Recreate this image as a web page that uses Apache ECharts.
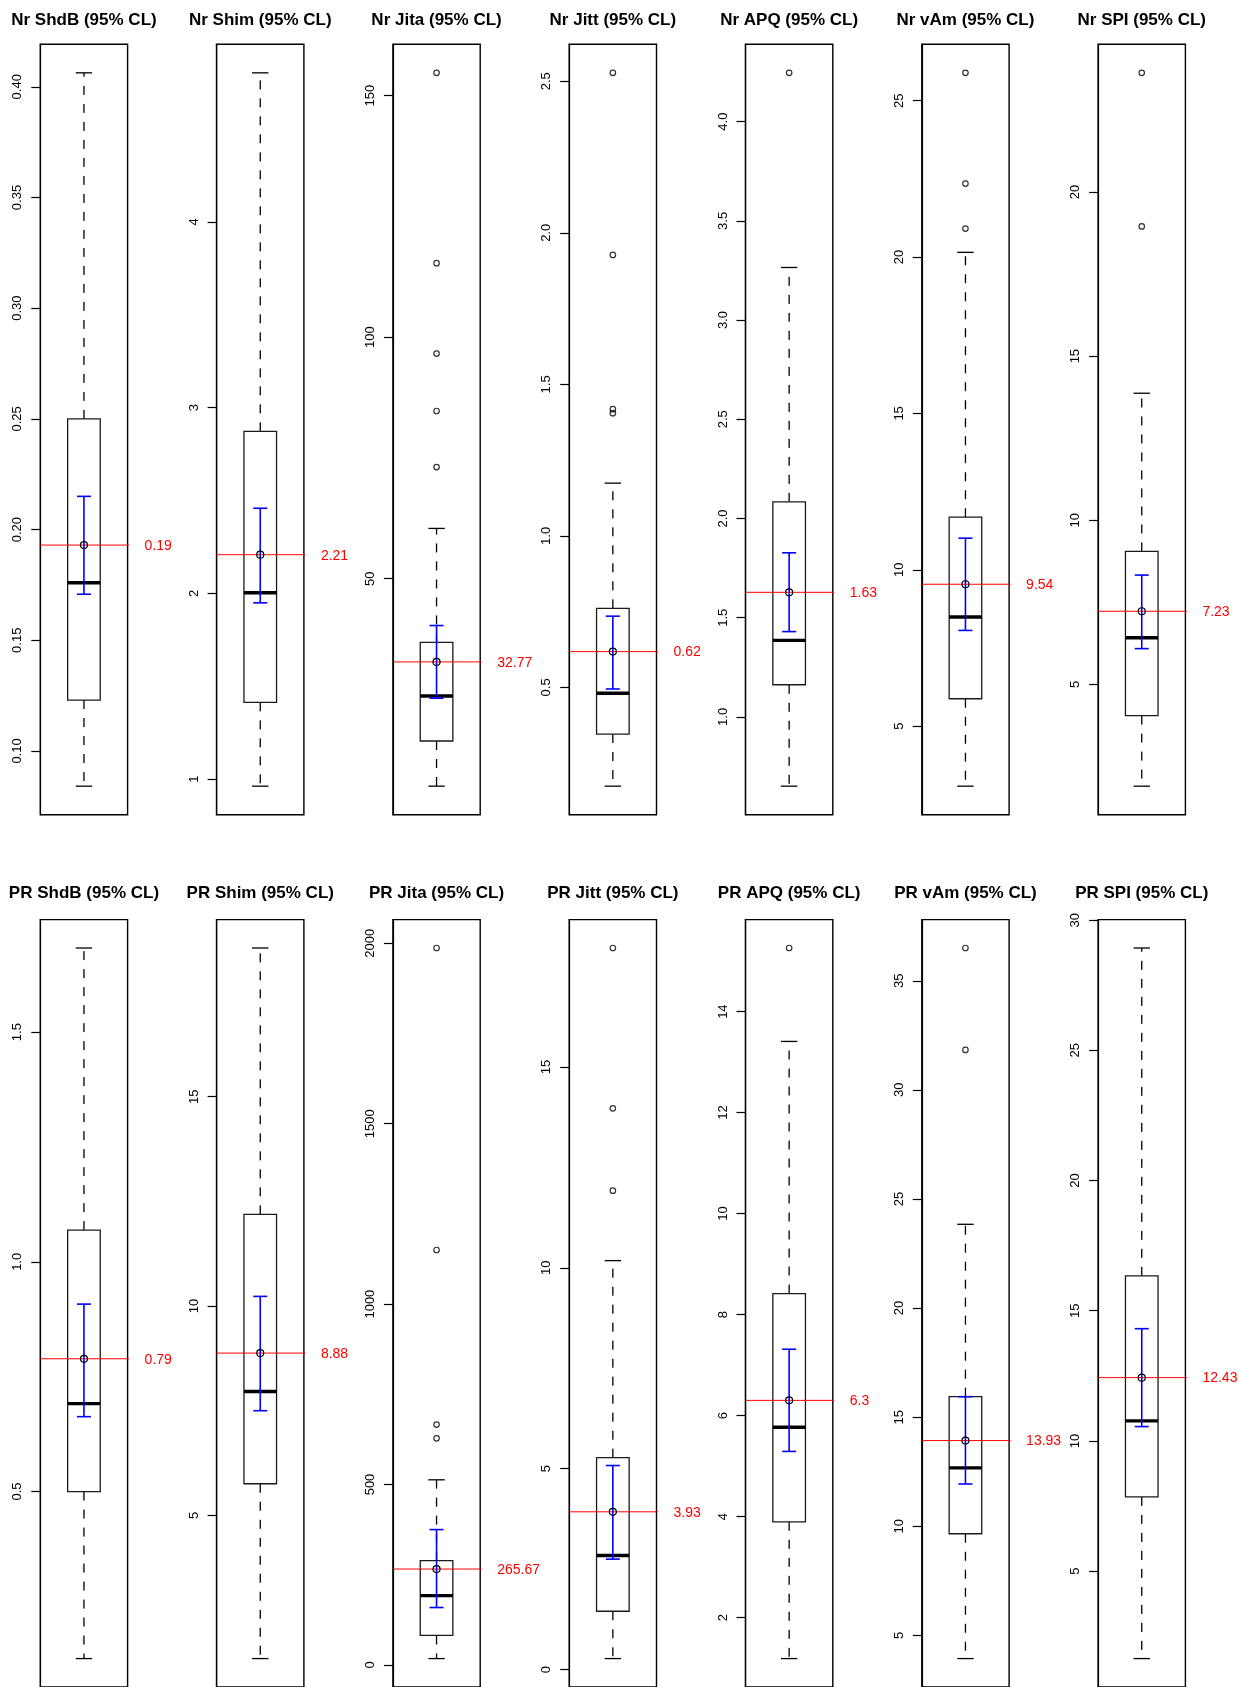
<!DOCTYPE html>
<html>
<head>
<meta charset="utf-8">
<script src="https://cdn.jsdelivr.net/npm/echarts@6/dist/echarts.min.js"></script>
<style>
  html, body { margin: 0; padding: 0; background: #fff; }
  #chart { width: 1239px; height: 1687px; }
</style>
</head>
<body>
<div id="chart"></div>
<script>
// Panel titles: first row Nr, second row PR
const panelTitles = [
  'Nr ShdB (95% CL)', 'Nr Shim (95% CL)', 'Nr Jita (95% CL)', 'Nr Jitt (95% CL)',
  'Nr APQ (95% CL)', 'Nr vAm (95% CL)', 'Nr SPI (95% CL)',
  'PR ShdB (95% CL)', 'PR Shim (95% CL)', 'PR Jita (95% CL)', 'PR Jitt (95% CL)',
  'PR APQ (95% CL)', 'PR vAm (95% CL)', 'PR SPI (95% CL)'
];

// Five-number summaries (whisker ends, quartiles, median)
const whiskerLow    = [0.0841, 0.962, 7.05, 0.174, 0.651, 3.08, 1.90, 0.1365, 1.58, 17.5, 0.275, 1.187, 3.94, 1.64];
const lowerQuartile = [0.123, 1.413, 16.4, 0.346, 1.162, 5.875, 4.05, 0.500, 5.755, 81.6, 1.453, 3.896, 9.66, 7.85];
const medians       = [0.176, 2.003, 25.7, 0.4805, 1.386, 8.49, 6.42, 0.6915, 7.96, 192, 2.84, 5.77, 12.68, 10.77];
const upperQuartile = [0.250, 2.872, 36.8, 0.761, 2.084, 11.68, 9.05, 1.069, 12.19, 289, 5.275, 8.417, 15.94, 16.34];
const whiskerHigh   = [0.4063, 4.802, 60.4, 1.174, 3.265, 20.15, 13.87, 1.683, 18.55, 513, 10.18, 13.41, 23.84, 28.93];

// Means and their 95% confidence limits
const means  = [0.193, 2.208, 32.77, 0.618, 1.628, 9.537, 7.228, 0.789, 8.876, 265.67, 3.928, 6.301, 13.93, 12.43];
const ciLow  = [0.1708, 1.949, 25.25, 0.4947, 1.430, 8.06, 6.09, 0.663, 7.50, 159, 2.75, 5.29, 11.94, 10.55];
const ciHigh = [0.2150, 2.458, 40.3, 0.735, 1.827, 11.01, 8.33, 0.908, 10.23, 375, 5.08, 7.314, 15.94, 14.31];

// Points beyond the whiskers
const outliers = [
  [], [], [154.7, 115.3, 96.6, 84.7, 73.1], [2.528, 1.927, 1.418, 1.405], [4.246],
  [25.89, 22.35, 20.91], [23.63, 18.95],
  [], [], [1987, 1150, 666, 628], [17.96, 13.97, 11.92], [15.26], [36.5, 31.83], []
];

// Y-axis tick labels for each panel
const tickLabels = [
  ['0.10', '0.15', '0.20', '0.25', '0.30', '0.35', '0.40'],
  ['1', '2', '3', '4'],
  ['50', '100', '150'],
  ['0.5', '1.0', '1.5', '2.0', '2.5'],
  ['1.0', '1.5', '2.0', '2.5', '3.0', '3.5', '4.0'],
  ['5', '10', '15', '20', '25'],
  ['5', '10', '15', '20'],
  ['0.5', '1.0', '1.5'],
  ['5', '10', '15'],
  ['0', '500', '1000', '1500', '2000'],
  ['0', '5', '10', '15'],
  ['2', '4', '6', '8', '10', '12', '14'],
  ['5', '10', '15', '20', '25', '30', '35'],
  ['5', '10', '15', '20', '25', '30']
];

const FONT = '"Liberation Sans", Arial, Helvetica, sans-serif';
const COLS = 7;
const PANEL_W = 87.3, PANEL_H = 770.4, PITCH = 176.3, LEFT0 = 40.3;
const ROW_TOP = [44.3, 919.6];
const TITLE_Y = [20, 893];

// Two decimals, trailing zeros dropped
function fmtMean(v) { return String(Math.round(v * 100) / 100); }

// Plot range: data range padded by 4% on each side
function yRange(i) {
  const vals = [whiskerLow[i], whiskerHigh[i]].concat(outliers[i]);
  const lo = Math.min.apply(null, vals), hi = Math.max.apply(null, vals);
  const pad = (hi - lo) * 0.04;
  return [lo - pad, hi + pad];
}

function renderPanel(params, api) {
  const xc = api.value(0);
  const pt = d => api.coord([xc, api.value(d)]);
  const cx = pt(3)[0];
  const y = d => pt(d)[1];
  const xl = api.coord([0.5, api.value(3)])[0];
  const xr = api.coord([1.5, api.value(3)])[0];
  const halfBox = 16.3, halfCap = 8.2, halfCi = 7;
  const solid = { stroke: '#000', lineWidth: 1.3 };
  const dashed = { stroke: '#000', lineWidth: 1.3, lineDash: [9, 9] };
  const blue = { stroke: '#0000ff', lineWidth: 1.6 };
  const hline = (x1, x2, yy, style) => ({ type: 'line', shape: { x1: x1, y1: yy, x2: x2, y2: yy }, style: style });
  const vline = (xx, y1, y2, style) => ({ type: 'line', shape: { x1: xx, y1: y1, x2: xx, y2: y2 }, style: style });
  return {
    type: 'group',
    children: [
      vline(cx, y(4), y(5), dashed),
      vline(cx, y(2), y(1), dashed),
      hline(cx - halfCap, cx + halfCap, y(5), solid),
      hline(cx - halfCap, cx + halfCap, y(1), solid),
      { type: 'rect', shape: { x: cx - halfBox, y: y(4), width: halfBox * 2, height: y(2) - y(4) },
        style: { fill: '#fff', stroke: '#1a1a1a', lineWidth: 1.3 } },
      hline(cx - halfBox, cx + halfBox, y(3), { stroke: '#000', lineWidth: 3.4 }),
      hline(xl, xr + 1.5, y(6), { stroke: '#ff0000', lineWidth: 1 }),
      vline(cx, y(7), y(8), blue),
      hline(cx - halfCi, cx + halfCi, y(7), blue),
      hline(cx - halfCi, cx + halfCi, y(8), blue),
      { type: 'circle', shape: { cx: cx, cy: y(6), r: 3.5 },
        style: { fill: 'none', stroke: '#000', lineWidth: 1.2 } },
      { type: 'text', style: { text: fmtMean(api.value(6)), x: xr + 17, y: y(6) + 1,
        fill: '#ff0000', fontSize: 14, fontFamily: FONT, align: 'left', verticalAlign: 'middle' } }
    ]
  };
}

const grids = [], xAxes = [], yAxes = [], series = [], titles = [];
panelTitles.forEach(function (name, i) {
  const row = Math.floor(i / COLS), col = i % COLS;
  const left = LEFT0 + PITCH * col;
  const top = ROW_TOP[row];
  const range = yRange(i);
  const labels = tickLabels[i];
  const ticks = labels.map(Number);

  grids.push({ left: left, top: top, width: PANEL_W, height: PANEL_H, show: true,
    borderColor: '#000', borderWidth: 1.4, backgroundColor: 'transparent', containLabel: false });

  xAxes.push({ type: 'value', gridIndex: i, min: 0.5, max: 1.5, show: false });

  yAxes.push({
    type: 'value', gridIndex: i, min: range[0], max: range[1],
    splitLine: { show: false },
    axisLine: { show: true, lineStyle: { color: '#000', width: 1.2 } },
    axisTick: { show: true, length: 9, customValues: ticks, lineStyle: { color: '#000', width: 1.2 } },
    axisLabel: {
      customValues: ticks, rotate: 90, margin: 16, fontSize: 13, color: '#000', fontFamily: FONT,
      formatter: function (v) { const k = ticks.indexOf(v); return k >= 0 ? labels[k] : ''; }
    }
  });

  titles.push({
    text: name, left: left + PANEL_W / 2, top: TITLE_Y[row], textAlign: 'center',
    textVerticalAlign: 'middle', padding: 0,
    textStyle: { fontSize: 17, fontWeight: 'bold', color: '#000', fontFamily: FONT }
  });

  series.push({
    type: 'custom', xAxisIndex: i, yAxisIndex: i, silent: true, clip: false,
    data: [[1, whiskerLow[i], lowerQuartile[i], medians[i], upperQuartile[i], whiskerHigh[i],
            means[i], ciLow[i], ciHigh[i]]],
    encode: { x: 0, y: [1, 2, 3, 4, 5, 6, 7, 8] },
    renderItem: renderPanel
  });

  series.push({
    type: 'scatter', xAxisIndex: i, yAxisIndex: i, silent: true,
    symbol: 'circle', symbolSize: 5.5,
    itemStyle: { color: 'rgba(0,0,0,0)', borderColor: '#000', borderWidth: 1.2 },
    data: outliers[i].map(v => [1, v])
  });
});

const chart = echarts.init(document.getElementById('chart'), null, { renderer: 'canvas' });
chart.setOption({
  animation: false,
  backgroundColor: '#fff',
  title: titles,
  grid: grids,
  xAxis: xAxes,
  yAxis: yAxes,
  series: series
});
</script>
</body>
</html>
